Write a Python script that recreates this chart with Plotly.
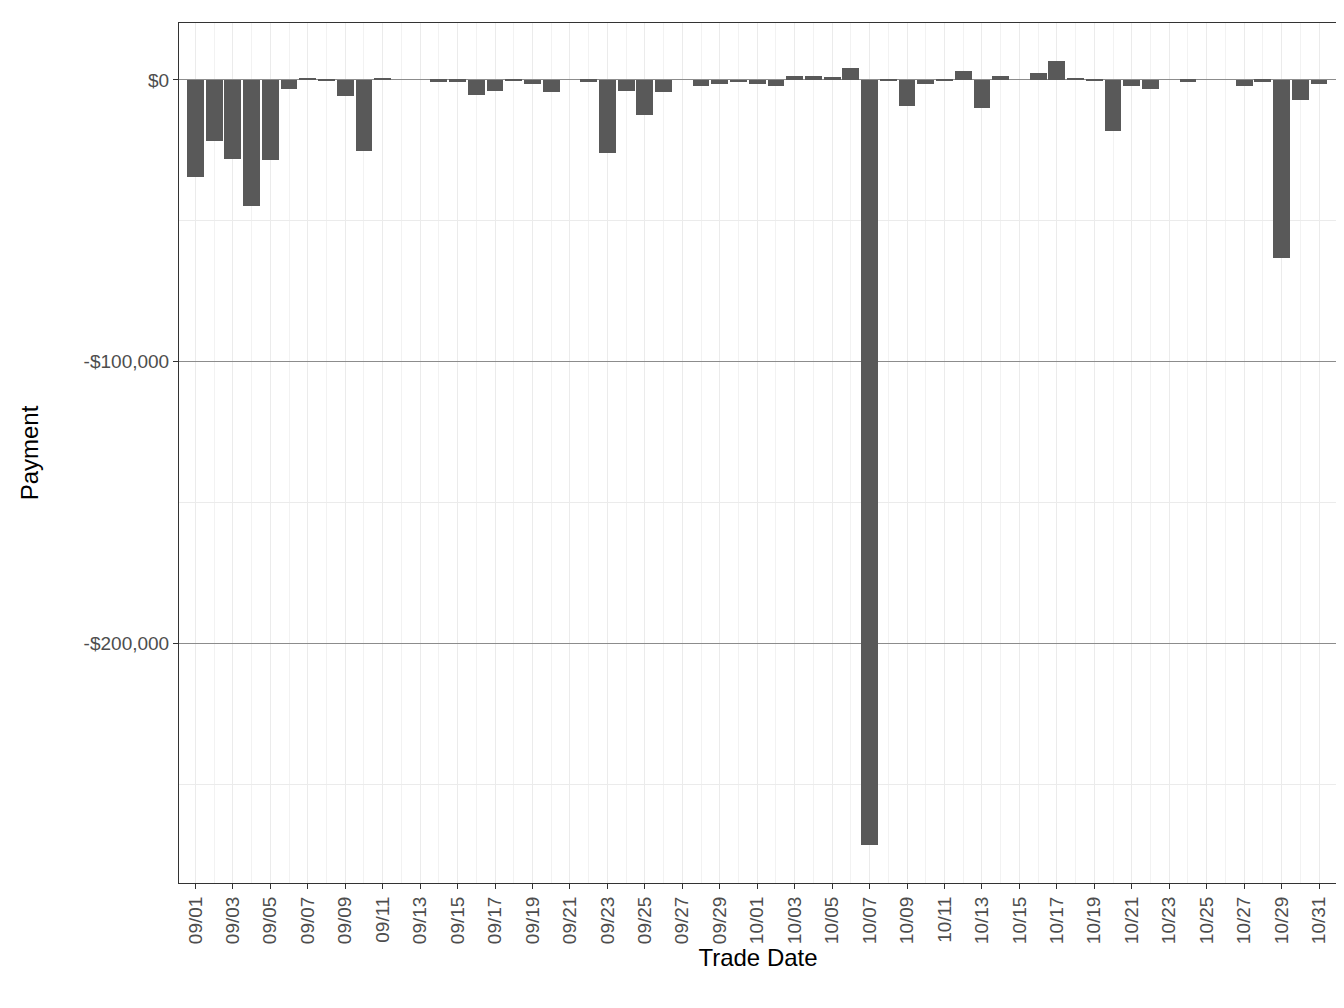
import pandas as pd
import plotly.graph_objects as go

dates = pd.date_range("2023-09-01", "2023-10-31", freq="D")
payments = [
    -34500, -21700, -28100, -44700, -28400, -3300, 500, -200, -5800, -25400,
    500, 0, 0, -600, -600, -5500, -4100, -100, -1600, -4400,
    0, -600, -26100, -4100, -12600, -4400, 0, -2300, -1600, -900,
    -1600, -2300, 1500, 1500, 1100, 4400, -271500, -200, -9400, -1300,
    -200, 3300, -9900, 1500, 0, 2600, 6800, 800, -200, -18300,
    -2000, -3100, 0, -600, 0, 0, -2300, -600, -63200, -7300,
    -1300,
]
tick_dates = dates[::2]
tick_labels = [d.strftime("%m/%d") for d in tick_dates]
y_ticks = [0, -100000, -200000]
y_labels = ["$0", "-$100,000", "-$200,000"]

fig = go.Figure(go.Bar(x=dates, y=payments, width=0.9 * 86400000,
                       marker=dict(color="#595959", line_width=0)))

fig.update_xaxes(
    automargin=False,
    range=["2023-08-31 03:00", "2023-10-31 23:00"],
    tickvals=tick_dates, ticktext=tick_labels, tickangle=-90,
    ticks="outside", ticklen=5, tickcolor="#333333",
    tickfont=dict(size=19, color="#4d4d4d"),
    showgrid=True, gridcolor="#ebebeb", gridwidth=1,
    minor=dict(dtick=86400000, showgrid=True, gridcolor="#f2f2f2"),
    showline=True, linecolor="#333333", mirror=True,
    title=dict(text="Trade Date", font=dict(size=24, color="black"), standoff=2),
)
fig.update_yaxes(
    automargin=False,
    range=[-285000, 20200],
    tickvals=y_ticks, ticktext=y_labels,
    ticks="outside", ticklen=5, tickcolor="#333333",
    tickfont=dict(size=19, color="#4d4d4d"),
    showgrid=True, gridcolor="#8c8c8c", gridwidth=1,
    minor=dict(dtick=50000, showgrid=True, gridcolor="#ebebeb"),
    zeroline=True, zerolinecolor="#8c8c8c", zerolinewidth=1,
    showline=True, linecolor="#333333", mirror=True,
    title=dict(text="Payment", font=dict(size=24, color="black"), standoff=38),
)
fig.update_layout(
    width=1344, height=1008,
    margin=dict(l=171, r=15, t=15, b=133, autoexpand=False),
    plot_bgcolor="white", paper_bgcolor="white",
    font=dict(family="Liberation Sans, Arial, sans-serif"),
    bargap=0, showlegend=False,
)
fig.write_html("out.html")
